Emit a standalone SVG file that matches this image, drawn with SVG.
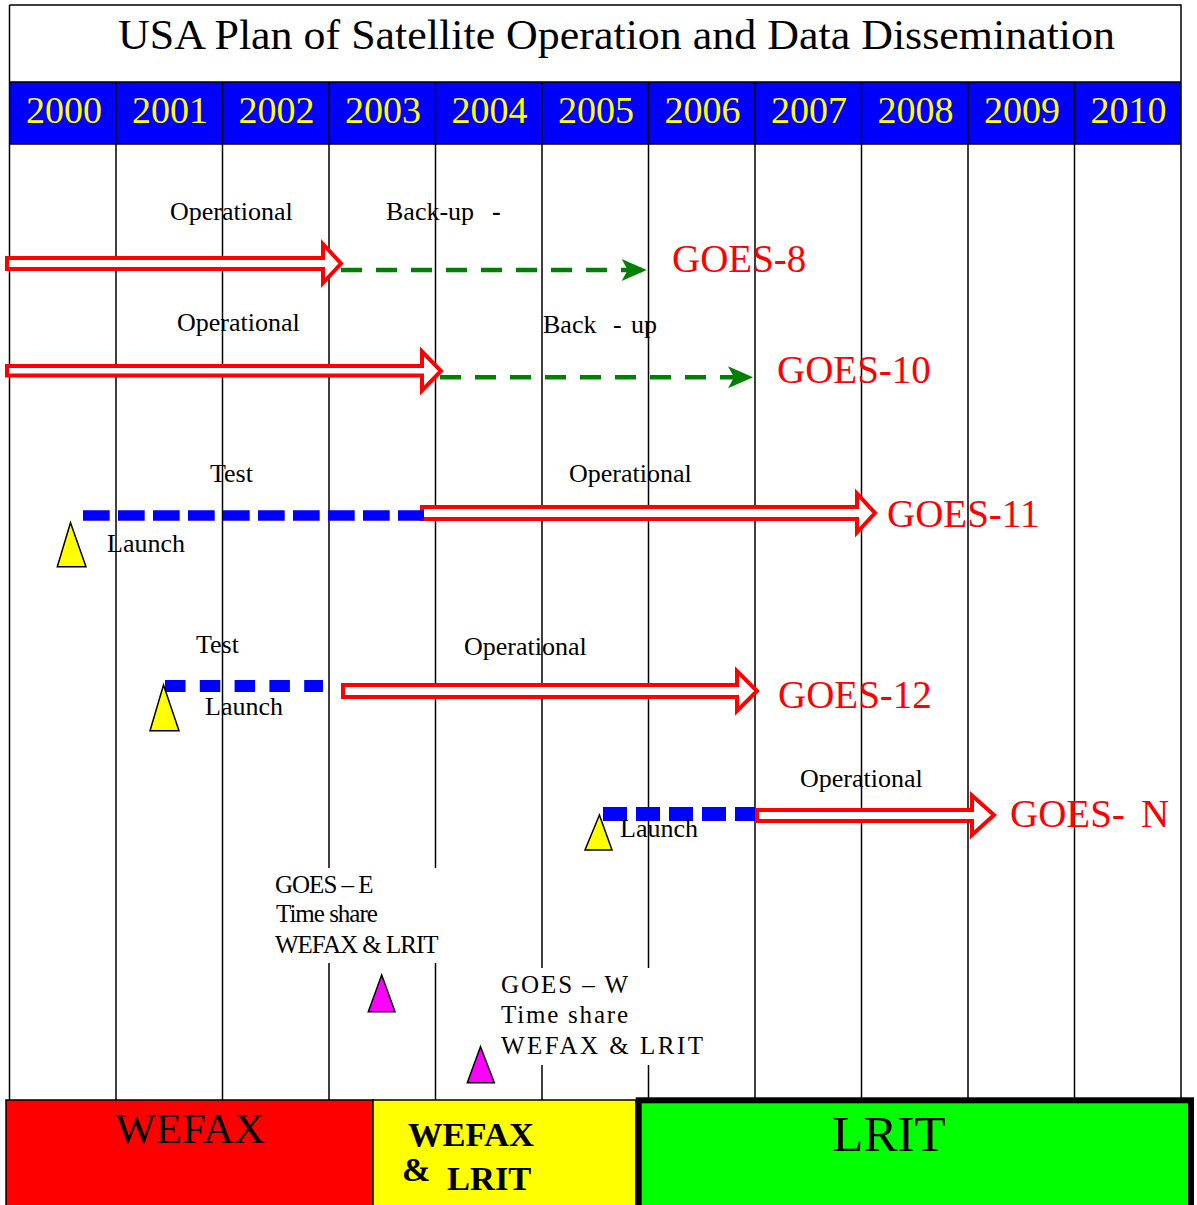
<svg xmlns="http://www.w3.org/2000/svg" width="1197" height="1205" viewBox="0 0 1197 1205">
<defs>
<style>
text{font-family:"Liberation Serif","Times New Roman",serif;}
.grid{stroke:#000;stroke-width:1.5;fill:none;}
.year{fill:#ff0;font-size:38px;text-anchor:middle;}
.lbl{fill:#000;font-size:26px;}
.goes{fill:#f00;font-size:39px;}
.hollow{fill:#fff;stroke:#f00;stroke-width:4;stroke-linejoin:miter;}
.green{stroke:#008000;stroke-width:4.5;stroke-dasharray:21 14;fill:none;}
.blue{stroke:#00f;fill:none;}
.tri{fill:#ff0;stroke:#000;stroke-width:1.5;}
.mag{fill:#f0f;stroke:#000;stroke-width:1.5;}
.note{fill:#000;font-size:25px;}
</style>
<marker id="gh" markerUnits="userSpaceOnUse" markerWidth="26" markerHeight="24" refX="25" refY="11" orient="auto" overflow="visible">
<path d="M0,0 L25,11 L0,22 L6,11 Z" fill="#008000"/>
</marker>
</defs>
<rect width="1197" height="1205" fill="#fff"/>

<g id="frame">
<rect x="9.5" y="82" width="1171.5" height="62" fill="#00f"/>
<path class="grid" d="M9.5,5 H1181 V1100 M9.5,5 V1100 M9.5,82 H1181 M9.5,144 H1181"/>
<path class="grid" d="M116,82 V1100 M222.5,82 V1100 M329,82 V1100 M435.5,82 V1100 M542,82 V1100 M648.5,82 V1100 M755,82 V1100 M861.5,82 V1100 M968,82 V1100 M1074.5,82 V1100"/>
</g>

<g id="title">
<text x="118" y="49" font-size="42" textLength="997" lengthAdjust="spacingAndGlyphs">USA Plan of Satellite Operation and Data Dissemination</text>
</g>

<g id="years">
<text class="year" x="64" y="123">2000</text>
<text class="year" x="170" y="123">2001</text>
<text class="year" x="276.5" y="123">2002</text>
<text class="year" x="383" y="123">2003</text>
<text class="year" x="489.5" y="123">2004</text>
<text class="year" x="596" y="123">2005</text>
<text class="year" x="702.5" y="123">2006</text>
<text class="year" x="809" y="123">2007</text>
<text class="year" x="915.5" y="123">2008</text>
<text class="year" x="1022" y="123">2009</text>
<text class="year" x="1128.5" y="123">2010</text>
</g>

<g id="connectors">
<path class="hollow" d="M7,258 L323,258 L323,244 L341,263.5 L323,283 L323,269 L7,269 Z"/>
<line class="green" x1="341" y1="270" x2="646.7" y2="270" marker-end="url(#gh)"/>
<path class="hollow" d="M7,366 L422,366 L422,351.5 L441,371 L422,390.5 L422,375.5 L7,375.5 Z"/>
<line class="green" x1="440" y1="377.3" x2="753" y2="377.3" marker-end="url(#gh)"/>
<path class="hollow" d="M422,507 L857,507 L857,493.5 L875,513 L857,532.5 L857,519 L422,519 Z"/>
<line class="blue" x1="83" y1="515.5" x2="424" y2="515.5" stroke-width="10.7" stroke-dasharray="26.7 8.3"/>
<path class="hollow" d="M343,685 L737,685 L737,671 L757,691 L737,711 L737,697 L343,697 Z"/>
<line class="blue" x1="165" y1="686" x2="323" y2="686" stroke-width="12" stroke-dasharray="20.5 14.3"/>
<path class="hollow" d="M757,810 L972,810 L972,795.5 L994,815 L972,835 L972,821 L757,821 Z"/>
<line class="blue" x1="603" y1="814" x2="755" y2="814" stroke-width="14" stroke-dasharray="24 9"/>
</g>

<g id="goes8">
<text class="lbl" x="170" y="220">Operational</text>
<text class="lbl" x="386" y="220">Back-up</text>
<text class="lbl" x="492" y="220" font-weight="bold">-</text>
<text class="goes" x="672" y="272">GOES-8</text>
</g>

<g id="goes10">
<text class="lbl" x="177" y="331">Operational</text>
<text class="lbl" x="543" y="333">Back<tspan x="613">-</tspan><tspan x="631">up</tspan></text>
<text class="goes" x="777" y="383">GOES-10</text>
</g>

<g id="goes11">
<text class="lbl" x="210" y="482">Test</text>
<text class="lbl" x="569" y="482">Operational</text>
<polygon class="tri" points="70.5,522.7 86,566.7 57.3,566.7"/>
<text class="lbl" x="107" y="552">Launch</text>
<text class="goes" x="887" y="527">GOES-11</text>
</g>

<g id="goes12">
<text class="lbl" x="196" y="653">Test</text>
<text class="lbl" x="464" y="655">Operational</text>
<polygon class="tri" points="163.5,685 179,730.7 150,730.7"/>
<text class="lbl" x="205" y="715">Launch</text>
<text class="goes" x="778" y="708">GOES-12</text>
</g>

<g id="goesN">
<text class="lbl" x="800" y="787">Operational</text>
<polygon class="tri" points="599.4,815 612,850 585,850"/>
<text class="lbl" x="620" y="837">Launch</text>
<text class="goes" x="1010" y="827">GOES-<tspan x="1141">N</tspan></text>
</g>

<g id="goesE">
<rect x="268" y="868" width="179" height="95" fill="#fff"/>
<text class="note" x="275" y="893" letter-spacing="-1">GOES – E</text>
<text class="note" x="276" y="922" letter-spacing="-1">Time share</text>
<text class="note" x="275" y="953" letter-spacing="-1">WEFAX &amp; LRIT</text>
<polygon class="mag" points="381.7,975 395,1011.7 368.3,1011.7"/>
</g>

<g id="goesW">
<rect x="496" y="968" width="214" height="97" fill="#fff"/>
<text class="note" x="501" y="993" font-size="24" textLength="127" lengthAdjust="spacing">GOES – W</text>
<text class="note" x="501" y="1023" font-size="24" textLength="127" lengthAdjust="spacing">Time share</text>
<text class="note" x="501" y="1054" font-size="24" textLength="202" lengthAdjust="spacing">WEFAX &amp; LRIT</text>
<polygon class="mag" points="480.5,1046.7 494.3,1082.7 467.3,1082.7"/>
</g>

<g id="bands">
<rect x="6" y="1100" width="367" height="110" fill="#f00" stroke="#000" stroke-width="1.5"/>
<text x="190" y="1143" font-size="43" text-anchor="middle">WEFAX</text>
<rect x="373" y="1100" width="263" height="110" fill="#ff0" stroke="#000" stroke-width="1.5"/>
<text x="408" y="1146" font-size="34.5" font-weight="bold">WEFAX</text>
<text x="402" y="1181" font-size="34" font-weight="bold">&amp;</text>
<text x="447" y="1190" font-size="34.5" font-weight="bold">LRIT</text>
<rect x="638.7" y="1100.3" width="552.3" height="110" fill="#0f0" stroke="#000" stroke-width="6"/>
<text x="889" y="1151" font-size="51" text-anchor="middle">LRIT</text>
</g>
</svg>
